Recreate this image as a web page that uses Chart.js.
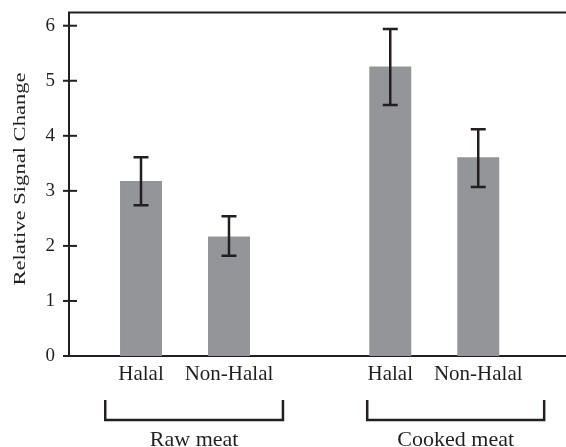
<!DOCTYPE html>
<html><head><meta charset="utf-8">
<script src="https://cdn.jsdelivr.net/npm/chart.js@4/dist/chart.umd.min.js"></script>
<style>html,body{margin:0;padding:0;background:#fff;overflow:hidden}canvas{display:block}</style>
</head><body><canvas id="c" width="566" height="447"></canvas>
<script>
// ---- data ----
const groups = ["Raw meat", "Cooked meat"];
const seriesNames = ["Halal", "Non-Halal"];
const halalMean = [3.18, 5.26];
const halalErrLow = [2.74, 4.56];
const halalErrHigh = [3.61, 5.94];
const nonHalalMean = [2.17, 3.61];
const nonHalalErrLow = [1.82, 3.07];
const nonHalalErrHigh = [2.54, 4.12];
const yTickLabels = ["0", "1", "2", "3", "4", "5", "6"];
const yAxisTitle = "Relative Signal Change";

// ---- styles / layout ----
const ink = '#231f20';
const barColor = '#939598';
const serif = "'Liberation Serif', 'Times New Roman', serif";
const bracketSpans = [[-0.32, 0.393], [-0.269, 0.441]];

const deco = {
  id: 'deco',
  afterDatasetsDraw(chart) {
    const ctx = chart.ctx, y = chart.scales.y;
    ctx.save();
    ctx.strokeStyle = ink; ctx.lineWidth = 2.5;
    chart.data.datasets.forEach((ds, di) => {
      chart.getDatasetMeta(di).data.forEach((bar, i) => {
        const lo = y.getPixelForValue(ds.errLow[i]);
        const hi = y.getPixelForValue(ds.errHigh[i]);
        ctx.beginPath();
        ctx.moveTo(bar.x, lo); ctx.lineTo(bar.x, hi);
        ctx.moveTo(bar.x - 7.5, lo); ctx.lineTo(bar.x + 7.5, lo);
        ctx.moveTo(bar.x - 7.5, hi); ctx.lineTo(bar.x + 7.5, hi);
        ctx.stroke();
      });
    });
    ctx.restore();
  },
  afterDraw(chart) {
    const ctx = chart.ctx, y = chart.scales.y, x = chart.scales.x;
    const a = chart.chartArea;
    ctx.save();
    ctx.strokeStyle = ink; ctx.fillStyle = ink;
    // y tick marks crossing the axis
    ctx.lineWidth = 2;
    y.ticks.forEach(t => {
      const py = y.getPixelForValue(t.value);
      ctx.beginPath(); ctx.moveTo(a.left - 6, py); ctx.lineTo(a.left + 8, py); ctx.stroke();
    });
    // top frame line
    ctx.beginPath(); ctx.moveTo(a.left - 1, a.top); ctx.lineTo(a.right, a.top); ctx.stroke();
    // category labels under bars
    ctx.font = "21px " + serif;
    ctx.textAlign = 'center'; ctx.textBaseline = 'alphabetic';
    chart.data.datasets.forEach((ds, di) => {
      chart.getDatasetMeta(di).data.forEach(bar => {
        ctx.fillText(seriesNames[di], bar.x, a.bottom + 24);
      });
    });
    // brackets + group labels
    ctx.lineWidth = 2.5; ctx.lineJoin = 'miter';
    ctx.font = "22px " + serif;
    groups.forEach((g, gi) => {
      const x1 = x.getPixelForValue(gi + bracketSpans[gi][0]);
      const x2 = x.getPixelForValue(gi + bracketSpans[gi][1]);
      ctx.beginPath();
      ctx.moveTo(x1, a.bottom + 44); ctx.lineTo(x1, a.bottom + 64);
      ctx.lineTo(x2, a.bottom + 64); ctx.lineTo(x2, a.bottom + 44);
      ctx.stroke();
      ctx.fillText(g, (x1 + x2) / 2, a.bottom + 90);
    });
    // y axis title
    ctx.save();
    ctx.translate(25, a.bottom - 177);
    ctx.rotate(-Math.PI / 2);
    ctx.scale(1.29, 1);
    ctx.font = "17.5px " + serif;
    ctx.fillText(yAxisTitle, 0, 0);
    ctx.restore();
    ctx.restore();
  }
};

new Chart(document.getElementById('c'), {
  type: 'bar',
  data: {
    datasets: [
      { label: seriesNames[0], data: halalMean.map((v, i) => ({ x: i, y: v })), errLow: halalErrLow, errHigh: halalErrHigh,
        backgroundColor: barColor, borderWidth: 0, categoryPercentage: 0.706, barPercentage: 0.477 },
      { label: seriesNames[1], data: nonHalalMean.map((v, i) => ({ x: i, y: v })), errLow: nonHalalErrLow, errHigh: nonHalalErrHigh,
        backgroundColor: barColor, borderWidth: 0, categoryPercentage: 0.706, barPercentage: 0.477 }
    ]
  },
  options: {
    responsive: false,
    animation: false,
    devicePixelRatio: 1,
    layout: { padding: { top: 12.5, right: 0, bottom: 0, left: 0 } },
    plugins: { legend: { display: false }, tooltip: { enabled: false } },
    scales: {
      x: {
        type: 'linear', position: 'bottom', offset: false,
        min: -0.4654, max: 1.5286,
        ticks: { display: false, stepSize: 1, includeBounds: false },
        grid: { display: false, offset: false },
        border: { display: true, color: ink, width: 2 },
        afterFit(s) { s.height = 91; s.paddingLeft = 0; s.paddingRight = 0; }
      },
      y: {
        min: 0, max: 6.24,
        ticks: { stepSize: 1, includeBounds: false, padding: 6, color: ink,
          font: { family: serif, size: 19 },
          callback: (v) => yTickLabels[v] },
        grid: { display: false },
        border: { display: true, color: ink, width: 2 },
        afterFit(s) { s.width = 69; s.paddingTop = 0; s.paddingBottom = 0; }
      }
    }
  },
  plugins: [deco]
});
</script>
</body></html>
